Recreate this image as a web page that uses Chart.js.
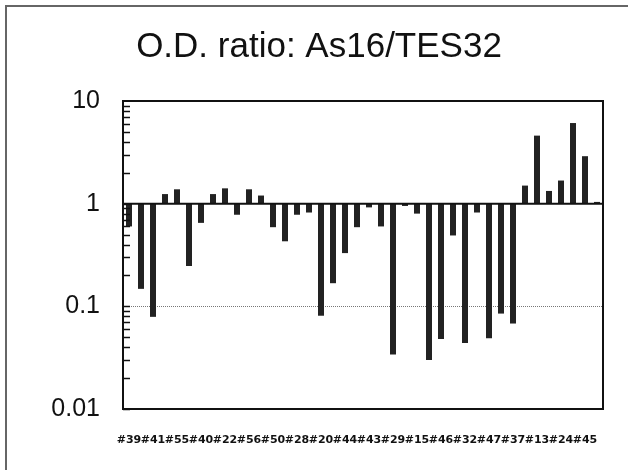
<!DOCTYPE html>
<html>
<head>
<meta charset="utf-8">
<script src="https://cdn.jsdelivr.net/npm/chart.js@4.4.0/dist/chart.umd.min.js"></script>
<style>
  html, body { margin: 0; padding: 0; background: #fff; }
  #wrap { position: relative; width: 628px; height: 470px; overflow: hidden; }
  #frame { position: absolute; left: 5px; top: 5px; width: 700px; height: 600px;
           border-left: 2px solid #666; border-top: 2px solid #666; }
  canvas { position: absolute; left: 0; top: 0; }
</style>
</head>
<body>
<div id="wrap">
  <div id="frame"></div>
  <canvas id="odChart" width="628" height="470"></canvas>
</div>
<script>
// clone ids, labelled on every other bar
const cloneIds = [ '#39', '#41', '#55', '#40', '#22', '#56', '#50', '#28', '#20', '#44',
    '#43', '#29', '#15', '#46', '#32', '#47', '#37', '#13', '#24', '#45' ]

// O.D. ratio per bar (40 bars)
const ratios = [ 0.60, 0.148, 0.079, 1.24, 1.38, 0.247, 0.65, 1.24, 1.41, 0.78,
    1.38, 1.2, 0.59, 0.43, 0.78, 0.82, 0.081, 0.168, 0.33, 0.59,
    0.92, 0.6, 0.034, 0.95, 0.8, 0.030, 0.048, 0.49, 0.044, 0.82,
    0.049, 0.085, 0.068, 1.5, 4.6, 1.33, 1.68, 6.1, 2.9, 1.04 ]

const yTicks = [ 0.01, 0.1, 1, 10 ]
const baseValue = 1
const refValue = 0.1

const categories = ratios.map( ( v, i ) => i % 2 === 0 ? cloneIds[ i / 2 ] : '' )

const FONT = "'Liberation Sans', Arial, Helvetica, sans-serif"

// frame, inner minor ticks, baseline at 1 and dotted line at 0.1
const decorPlugin = {
    id: 'decor',
    beforeDatasetsDraw ( chart ) {
        const { ctx, chartArea: a } = chart
        const y = chart.scales.y
        ctx.save()
        // dotted reference line
        const yRef = Math.round( y.getPixelForValue( refValue ) ) + 0.5
        ctx.strokeStyle = '#777'
        ctx.lineWidth = 1
        ctx.setLineDash( [ 1, 1 ] )
        ctx.beginPath()
        ctx.moveTo( a.left, yRef )
        ctx.lineTo( a.right, yRef )
        ctx.stroke()
        ctx.restore()
    },
    afterDatasetsDraw ( chart ) {
        const { ctx, chartArea: a } = chart
        const y = chart.scales.y
        ctx.save()
        ctx.strokeStyle = '#111'
        ctx.lineWidth = 1.5
        // minor ticks 2..9 in each decade, pointing inward
        for ( let e = -2; e < 1; e++ ) {
            for ( let m = 1; m <= 9; m++ ) {
                const py = Math.round( y.getPixelForValue( m * Math.pow( 10, e ) ) ) + 0.5
                ctx.beginPath()
                ctx.moveTo( a.left, py )
                ctx.lineTo( a.left + 7, py )
                ctx.stroke()
            }
        }
        // baseline at 1
        const yb = y.getPixelForValue( baseValue )
        ctx.lineWidth = 2
        ctx.beginPath()
        ctx.moveTo( a.left, yb )
        ctx.lineTo( a.right, yb )
        ctx.stroke()
        // plot frame
        ctx.lineWidth = 2
        ctx.strokeRect( a.left, a.top, a.right - a.left, a.bottom - a.top )
        ctx.restore()
    }
}

new Chart( document.getElementById( 'odChart' ), {
    type: 'bar',
    data: {
        labels: categories,
        datasets: [ {
            data: ratios.map( v => [ baseValue, v ] ),
            backgroundColor: '#222',
            borderWidth: 0,
            barPercentage: 0.5,
            categoryPercentage: 1
        } ]
    },
    options: {
        responsive: false,
        animation: false,
        layout: { padding: { left: 35, right: 25, top: 0, bottom: 0 } },
        plugins: {
            legend: { display: false },
            tooltip: { enabled: false },
            title: {
                display: true,
                text: 'O.D. ratio: As16/TES32',
                color: '#111',
                font: { family: FONT, size: 35, weight: 'normal' },
                padding: { top: 26, bottom: 33 }
            }
        },
        scales: {
            x: {
                grid: { display: false },
                border: { display: false },
                ticks: {
                    autoSkip: false,
                    maxRotation: 0,
                    minRotation: 0,
                    color: '#111',
                    padding: 17,
                    font: { family: "'DejaVu Sans', sans-serif", size: 11, weight: 'bold' }
                },
                afterFit ( scale ) { scale.height = 61 }
            },
            y: {
                type: 'logarithmic',
                min: 0.01,
                max: 10,
                grid: { display: false },
                border: { display: false },
                afterBuildTicks ( scale ) {
                    scale.ticks = yTicks.map( v => ( { value: v } ) )
                },
                ticks: {
                    autoSkip: false,
                    color: '#111',
                    padding: 15,
                    font: { family: FONT, size: 25 },
                    callback: v => String( v )
                },
                afterFit ( scale ) { scale.width = 88 }
            }
        }
    },
    plugins: [ decorPlugin ]
} )
</script>
</body>
</html>
